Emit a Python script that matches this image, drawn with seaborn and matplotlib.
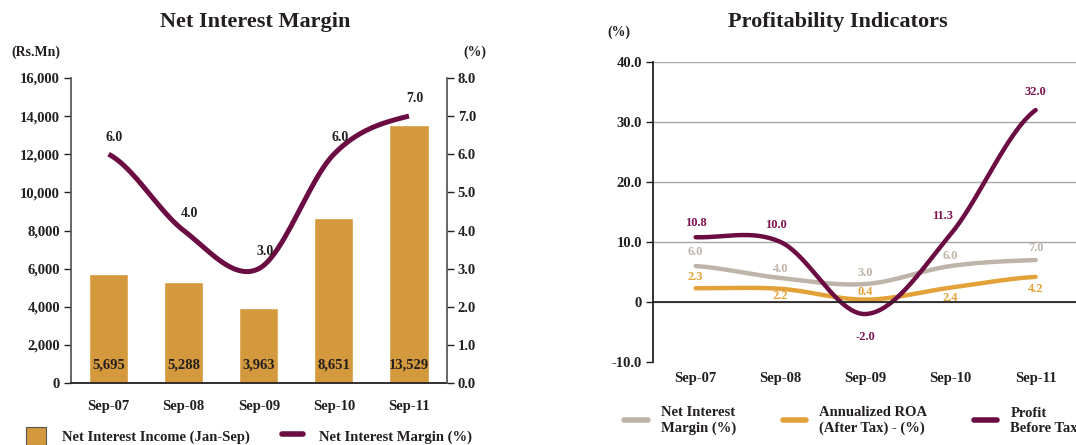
import numpy as np
import pandas as pd
import matplotlib
matplotlib.use('Agg')
import matplotlib.pyplot as plt
import seaborn as sns
from matplotlib.lines import Line2D
from matplotlib.patches import Patch
from matplotlib.ticker import FuncFormatter

periods = ['Sep-07', 'Sep-08', 'Sep-09', 'Sep-10', 'Sep-11']
nii = [5695, 5288, 3963, 8651, 13529]        # Rs.Mn, Jan-Sep
nim = [6.0, 4.0, 3.0, 6.0, 7.0]              # %
roa = [2.3, 2.2, 0.4, 2.4, 4.2]              # %
pbt = [10.8, 10.0, -2.0, 11.3, 32.0]         # %

GOLD = '#D4993D'
MAROON = '#6B0C42'
MAROON_TXT = '#7E1450'
GREY = '#BEB4AA'
ORANGE = '#E2A239'
INK = '#231F20'

sns.set_theme(style='white')
plt.rcParams['font.family'] = ['Liberation Serif', 'DejaVu Serif']
plt.rcParams['font.weight'] = 'bold'
plt.rcParams['text.color'] = INK
plt.rcParams['axes.labelcolor'] = INK
plt.rcParams['xtick.color'] = INK
plt.rcParams['ytick.color'] = INK

df = pd.DataFrame({'period': periods, 'nii': nii, 'nim': nim, 'roa': roa, 'pbt': pbt})


def smooth(y, n=40):
    # catmull-rom curve through the points (like excel "smoothed line")
    y = np.asarray(y, dtype=float)
    p = np.r_[y[0], y, y[-1]]
    xs, ys = [], []
    t = np.linspace(0, 1, n, endpoint=False)
    for i in range(len(y) - 1):
        p0, p1, p2, p3 = p[i:i + 4]
        ys.append(0.5 * (2 * p1 + (-p0 + p2) * t + (2 * p0 - 5 * p1 + 4 * p2 - p3) * t ** 2
                         + (-p0 + 3 * p1 - 3 * p2 + p3) * t ** 3))
        xs.append(i + t)
    xs.append([len(y) - 1])
    ys.append([y[-1]])
    return np.concatenate(xs), np.concatenate(ys)


fig = plt.figure(figsize=(10.76, 4.45), dpi=100)

# ---------------- Net Interest Margin ----------------
ax1 = fig.add_axes([0.066, 0.139, 0.349, 0.686])
sns.barplot(data=df, x='period', y='nii', color=GOLD, saturation=1, width=0.52, ax=ax1)
ax1.set_xlim(-0.5, 4.5)
ax1.set_ylim(0, 16000)
ax1.set_yticks(range(0, 16001, 2000))
ax1.yaxis.set_major_formatter(FuncFormatter(lambda v, p: f'{int(v):,}'))
ax1.set_xlabel('')
ax1.set_ylabel('')
ax1.set_xticks(range(5))
ax1.set_xticklabels(periods)
ax1.set_xticks(np.arange(-0.5, 5), minor=True)
ax1.tick_params(axis='x', which='major', length=0, pad=12, labelsize=10.5)
ax1.tick_params(axis='x', which='minor', length=6, width=1, direction='out', color=INK)
ax1.tick_params(axis='y', length=5, width=1, direction='out', labelsize=10.5, pad=3, left=True)
for s in ['top', 'right']:
    ax1.spines[s].set_visible(False)
ax1.spines['left'].set_color('#555555')
ax1.spines['bottom'].set_color(INK)
ax1.spines['bottom'].set_linewidth(1.3)
for i, v in enumerate(nii):
    ax1.text(i, 950, f'{v:,}', ha='center', va='center', fontsize=10.5)

ax2 = ax1.twinx()
xs, ys = smooth(nim)
sns.lineplot(x=xs, y=ys, ax=ax2, color=MAROON, lw=3.6, sort=False, solid_capstyle='butt')
ax2.set_ylim(0, 8)
ax2.set_yticks(range(0, 9))
ax2.yaxis.set_major_formatter(FuncFormatter(lambda v, p: f'{v:.1f}'))
ax2.tick_params(axis='y', length=5, width=1, direction='out', labelsize=10.5, pad=3, right=True)
for s in ['top', 'left', 'bottom']:
    ax2.spines[s].set_visible(False)
ax2.spines['right'].set_color('#555555')
for i, v in enumerate(nim):
    ax2.text(i + 0.08, v + 0.45, f'{v:.1f}', ha='center', va='center', fontsize=10)

fig.text(0.237, 0.95, 'Net Interest Margin', ha='center', va='center', fontsize=16)
fig.text(0.011, 0.883, '(Rs.Mn)', ha='left', va='center', fontsize=10)
fig.text(0.441, 0.883, '(%)', ha='center', va='center', fontsize=10)

fig.legend(handles=[Patch(facecolor=GOLD, edgecolor='#555555', lw=0.8,
                          label='Net Interest Income (Jan-Sep)'),
                    Line2D([], [], color=MAROON, lw=4, label='Net Interest Margin (%)')],
           loc='center left', bbox_to_anchor=(0.012, 0.02), ncol=2, frameon=False,
           fontsize=10.5, handlelength=1.4, handleheight=1.5, columnspacing=2.2,
           handletextpad=1.1)

# ---------------- Profitability Indicators ----------------
ax3 = fig.add_axes([0.607, 0.1865, 0.395, 0.674])
for vals, col, lab in [(nim, GREY, 'Net Interest\nMargin (%)'),
                       (roa, ORANGE, 'Annualized ROA\n(After Tax) - (%)'),
                       (pbt, MAROON, 'Profit\nBefore Tax')]:
    xs, ys = smooth(vals)
    sns.lineplot(x=xs, y=ys, ax=ax3, color=col, lw=3.2, sort=False, label=lab)
ax3.set_xlim(-0.5, 4.5)
ax3.set_ylim(-10, 40)
ax3.set_yticks(range(-10, 41, 10))
ax3.yaxis.set_major_formatter(FuncFormatter(lambda v, p: '0' if v == 0 else f'{v:.1f}'))
ax3.grid(axis='y', color='#A8A8A8', lw=1)
ax3.get_ygridlines()[0].set_visible(False)
ax3.set_axisbelow(True)
ax3.set_xticks(np.arange(-0.5, 5))
ax3.set_xticklabels([])
ax3.tick_params(axis='x', length=6, width=1, direction='out', color=INK)
ax3.tick_params(axis='y', length=5, width=1, direction='out', labelsize=10.5, pad=3, left=True)
ax3.spines['bottom'].set_position(('data', 0))
ax3.spines['bottom'].set_color(INK)
ax3.spines['left'].set_color(INK)
ax3.spines['left'].set_linewidth(1.3)
for s in ['top', 'right']:
    ax3.spines[s].set_visible(False)
for i, p in enumerate(periods):
    ax3.text(i, -12.8, p, ha='center', va='center', fontsize=10.5)
ax3.get_legend().remove()

# value labels
nim_off = [(0, 2.3), (0, 1.5), (0, 1.8), (0, 1.7), (0, 2.0)]
roa_off = [(0, 1.9), (0, -1.2), (0, 1.3), (0, -1.7), (0, -2.1)]
pbt_off = [(0, 2.3), (-0.05, 2.8), (0, -3.8), (-0.1, 3.0), (0, 3.0)]
for vals, offs, col in [(nim, nim_off, GREY), (roa, roa_off, ORANGE), (pbt, pbt_off, MAROON_TXT)]:
    for i, (v, (dx, dy)) in enumerate(zip(vals, offs)):
        ax3.text(i + dx, v + dy, f'{v:.1f}', ha='center', va='center', fontsize=9, color=col)

fig.text(0.779, 0.95, 'Profitability Indicators', ha='center', va='center', fontsize=16)
fig.text(0.575, 0.928, '(%)', ha='center', va='center', fontsize=10)

fig.legend(handles=[Line2D([], [], color=GREY, lw=4),
                    Line2D([], [], color=ORANGE, lw=4),
                    Line2D([], [], color=MAROON, lw=4)],
           labels=['Net Interest\nMargin (%)', 'Annualized ROA\n(After Tax) - (%)', 'Profit\nBefore Tax'],
           loc='center left', bbox_to_anchor=(0.568, 0.055), ncol=3, frameon=False,
           fontsize=10.5, handlelength=1.6, columnspacing=3.2, handletextpad=0.9)

fig.savefig('out.png', dpi=100)
